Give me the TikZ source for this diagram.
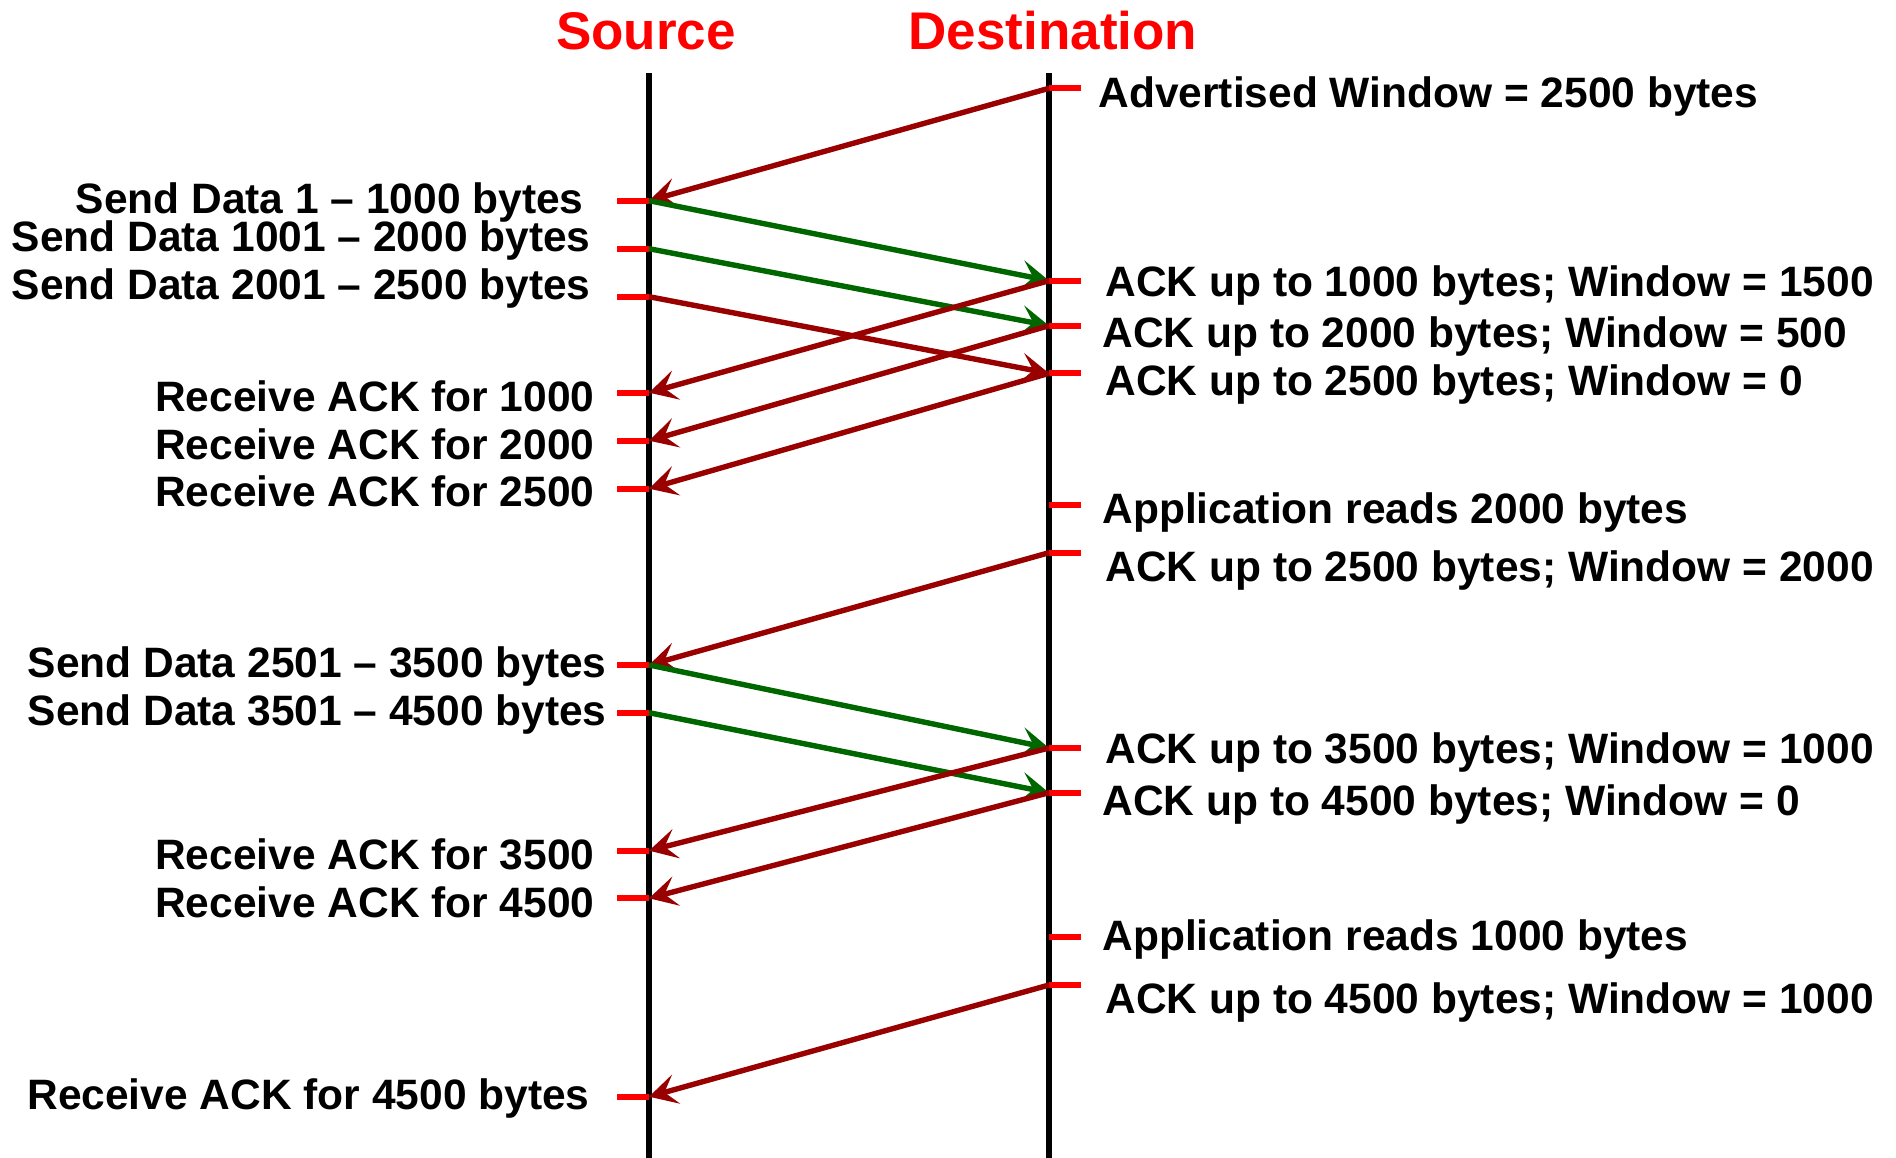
\documentclass[tikz,border=0pt]{standalone}
\usepackage{fontspec}
\setmainfont{Liberation Sans}
\usetikzlibrary{arrows.meta}
\definecolor{ackred}{RGB}{153,0,0}
\definecolor{datagreen}{RGB}{0,102,0}
\definecolor{markred}{RGB}{255,0,0}

\begin{document}
\begin{tikzpicture}[x=0.5bp,y=-0.5bp,
  lifeline/.style={line width=2.7bp,black},
  tickmark/.style={line width=3bp,markred},
  msg/.style={line width=2.7bp,-{Stealth[length=14bp,width=15bp,inset=6bp]}},
  ackmsg/.style={msg,ackred},
  datamsg/.style={msg,datagreen},
  lbl/.style={font=\bfseries\fontsize{21.25bp}{25bp}\selectfont,inner sep=0pt},
  leftlbl/.style={lbl,anchor=base east},
  rightlbl/.style={lbl,anchor=base west},
  ttl/.style={font=\bfseries\fontsize{26.5bp}{30bp}\selectfont,text=markred,inner sep=0pt,anchor=base}
]
\useasboundingbox (0,0) rectangle (1896,1158);

% titles
\node[ttl] (srcttl) at (646,50) {Source};
\node[ttl] (dstttl) at (1053,50) {Destination};

% lifelines
\coordinate (stop) at (649,73);  \coordinate (sbot) at (649,1158);
\coordinate (dtop) at (1049,73); \coordinate (dbot) at (1049,1158);
\draw[lifeline] (stop) -- (sbot);
\draw[lifeline] (dtop) -- (dbot);

% event points on the source side
\coordinate (s1)  at (649,200.7);
\coordinate (s2)  at (649,248.7);
\coordinate (s3)  at (649,296.7);
\coordinate (s4)  at (649,392.7);
\coordinate (s5)  at (649,440.7);
\coordinate (s6)  at (649,488.7);
\coordinate (s7)  at (649,665);
\coordinate (s8)  at (649,712.7);
\coordinate (s9)  at (649,850.7);
\coordinate (s10) at (649,898.3);
\coordinate (s11) at (649,1096.7);

% event points on the destination side
\coordinate (d1)  at (1049,88.3);
\coordinate (d2)  at (1049,280.7);
\coordinate (d3)  at (1049,325.7);
\coordinate (d4)  at (1049,373.3);
\coordinate (d5)  at (1049,505);
\coordinate (d6)  at (1049,552.7);
\coordinate (d7)  at (1049,748);
\coordinate (d8)  at (1049,792.7);
\coordinate (d9)  at (1049,936.7);
\coordinate (d10) at (1049,985);

% tick marks
\foreach \p in {s1,s2,s3,s4,s5,s6,s7,s8,s9,s10,s11}
  \draw[tickmark] (\p) -- ++(-32,0);
\foreach \p in {d1,d2,d3,d4,d5,d6,d7,d8,d9,d10}
  \draw[tickmark] (\p) -- ++(32,0);

% source labels
\node[leftlbl] (ls1)  at (584,213.3)  {Send Data 1 – 1000 bytes};
\node[leftlbl] (ls2)  at (591,251.7)  {Send Data 1001 – 2000 bytes};
\node[leftlbl] (ls3)  at (591,300)    {Send Data 2001 – 2500 bytes};
\node[leftlbl] (ls4)  at (595,412)    {Receive ACK for 1000};
\node[leftlbl] (ls5)  at (595,460)    {Receive ACK for 2000};
\node[leftlbl] (ls6)  at (595,507)    {Receive ACK for 2500};
\node[leftlbl] (ls7)  at (607,677)    {Send Data 2501 – 3500 bytes};
\node[leftlbl] (ls8)  at (607,725)    {Send Data 3501 – 4500 bytes};
\node[leftlbl] (ls9)  at (595,869.3)  {Receive ACK for 3500};
\node[leftlbl] (ls10) at (595,917)    {Receive ACK for 4500};
\node[leftlbl] (ls11) at (590,1109)   {Receive ACK for 4500 bytes};

% destination labels
\node[rightlbl] (ld1)  at (1098,107.3) {Advertised Window = 2500 bytes};
\node[rightlbl] (ld2)  at (1105,296.7) {ACK up to 1000 bytes; Window = 1500};
\node[rightlbl] (ld3)  at (1102,348)   {ACK up to 2000 bytes; Window = 500};
\node[rightlbl] (ld4)  at (1105,396)   {ACK up to 2500 bytes; Window = 0};
\node[rightlbl] (ld5)  at (1102,523.3) {Application reads 2000 bytes};
\node[rightlbl] (ld6)  at (1105,581.7) {ACK up to 2500 bytes; Window = 2000};
\node[rightlbl] (ld7)  at (1105,763.3) {ACK up to 3500 bytes; Window = 1000};
\node[rightlbl] (ld8)  at (1102,815)   {ACK up to 4500 bytes; Window = 0};
\node[rightlbl] (ld9)  at (1102,950)   {Application reads 1000 bytes};
\node[rightlbl] (ld10) at (1105,1013)  {ACK up to 4500 bytes; Window = 1000};

% messages
\draw[ackmsg]  (d1) -- (s1);
\draw[datamsg] (s1) -- (d2);
\draw[datamsg] (s2) -- (d3);
\draw[ackmsg]  (s3) -- (d4);
\draw[ackmsg]  (d2) -- (s4);
\draw[ackmsg]  (d3) -- (s5);
\draw[ackmsg]  (d4) -- (s6);
\draw[ackmsg]  (d6) -- (s7);
\draw[datamsg] (s7) -- (d7);
\draw[datamsg] (s8) -- (d8);
\draw[ackmsg]  (d7) -- (s9);
\draw[ackmsg]  (d8) -- (s10);
\draw[ackmsg]  (d10) -- (s11);
\end{tikzpicture}
\end{document}
